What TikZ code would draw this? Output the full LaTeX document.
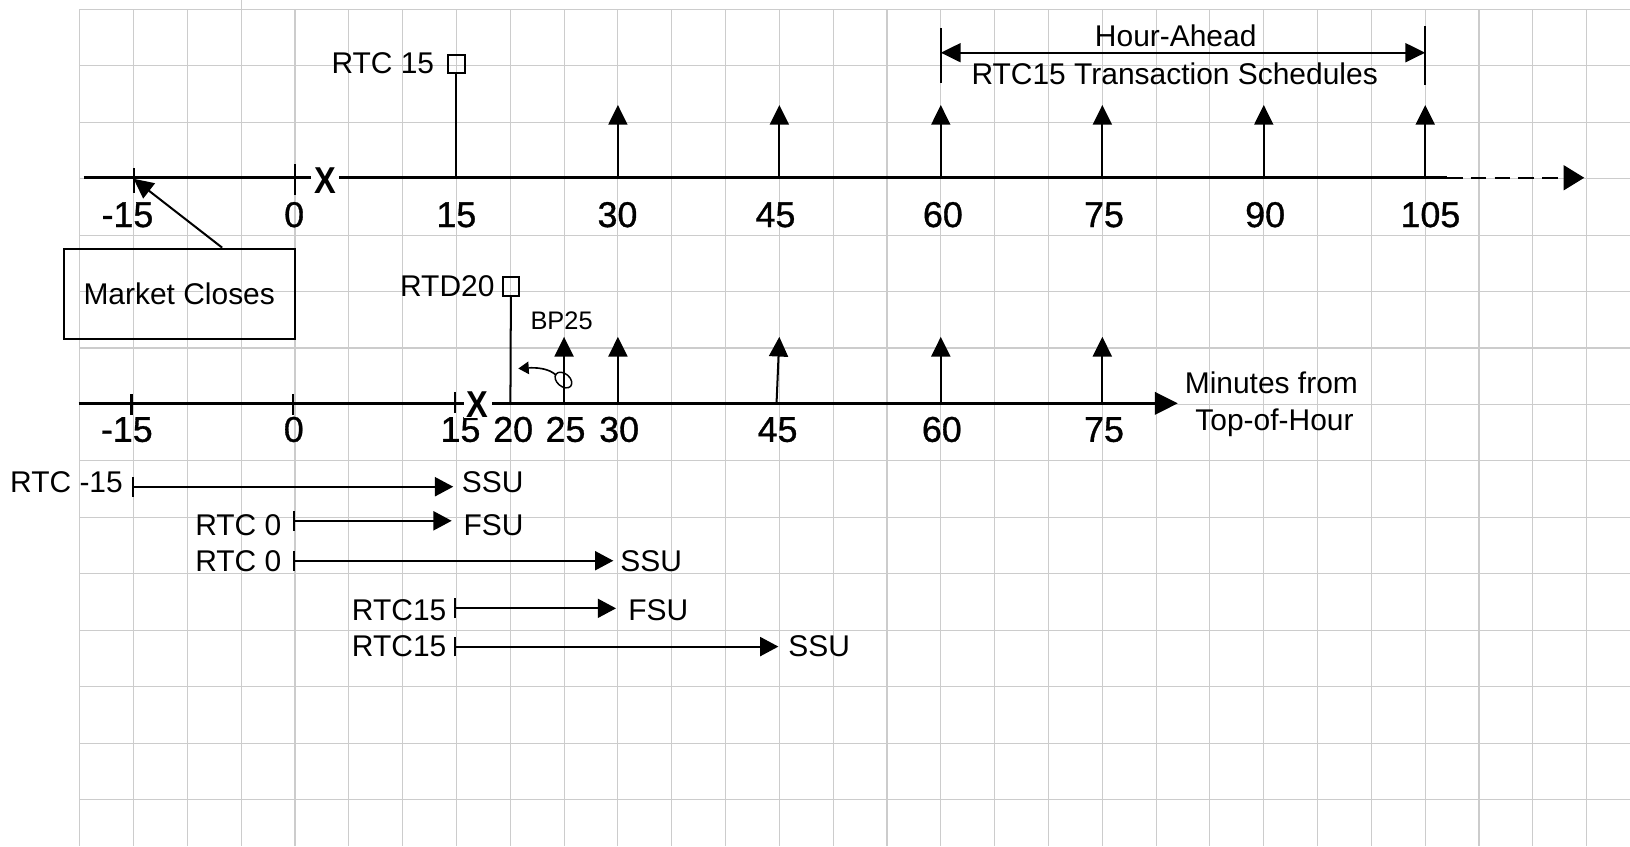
\documentclass[tikz,border=0pt]{standalone}
\usepackage{fontspec}
\setmainfont{Liberation Sans}
\newfontfamily\tickfont[FakeBold=0.9]{Liberation Sans}
\usetikzlibrary{arrows.meta}
\definecolor{gridgray}{RGB}{204,204,204}
\begin{document}
\begin{tikzpicture}[x=0.02cm,y=-0.02cm,
  gridc/.style={draw=gridgray, line width=0.6pt},
  axisline/.style={line width=1.4pt},
  conn/.style={line width=1.1pt},
  uparrow/.style={conn,-{Triangle[length=10.8pt,width=10.4pt]}},
  rowarrow/.style={conn,{Bar[width=10.8pt]}-{Triangle[length=10pt,width=10.4pt]}},
  lbl/.style={inner sep=0pt, font=\fontsize{16.4}{19.6}\selectfont},
  ticklbl/.style={inner sep=0pt, anchor=base, font=\tickfont\fontsize{19.6}{23}\selectfont},
  xmark/.style={inner xsep=2pt, inner ysep=0.5pt, fill=white, font=\fontsize{20.5}{20.5}\selectfont\bfseries, xscale=0.87},
  sqmark/.style={draw, line width=1.1pt, inner sep=0pt, minimum width=9.6pt, minimum height=9.6pt},
]
\useasboundingbox (0,0) rectangle (1568,814);
\fill[white] (0,0) rectangle (1568,814);
% grid
\foreach \k in {0,...,28} \draw[gridc] ({76.7+51.77*\k},9) -- ({76.7+51.77*\k},814);
\draw[gridc] (232,0) -- (232,9);
\foreach \j in {0,...,14} \draw[gridc] (76.7,{9+54.3*\j}) -- (1568,{9+54.3*\j});

% ---------- top time line ----------
\coordinate (tA) at (80.7,171);
\coordinate (tS) at (1392,171);
\coordinate (tE) at (1524,171);
\draw[axisline] (tA) -- (tS);
\draw[line width=1.1pt, dash pattern=on 8.5pt off 4.5pt, -{Triangle[length=11.3pt,width=13.6pt]}] (tS) -- (tE);
\draw[conn] (128.5,162) -- (128.5,186);
\draw[conn] (283.8,158) -- (283.8,187.6);

\foreach \x/\t [count=\i] in {122.6/-15, 283/0, 439/15, 594/30, 746/45, 907/60, 1062/75, 1217/90, 1376/105}
  \node[ticklbl] (tl\i) at (\x,218.4) {\t};

\node[xmark] (xt) at (312.7,174) {X};

\node[sqmark] (sq15) at (439,61.5) {};
\coordinate (t15) at (439,171);
\draw[conn] (sq15) -- (t15);
\node[lbl, anchor=base east] (lrtc15) at (418,71) {RTC 15};

\foreach \x [count=\i] in {594.4,749.7,905,1060.4,1215.7,1371} {
  \coordinate (tb\i) at (\x,171);
  \coordinate (tt\i) at (\x,101);
  \draw[uparrow] (tb\i) -- (tt\i);
}

% bracket
\coordinate (bl1) at (905,27); \coordinate (bl2) at (905,80);
\coordinate (br1) at (1371,25); \coordinate (br2) at (1371,82);
\draw[conn] (bl1) -- (bl2);
\draw[conn] (br1) -- (br2);
\coordinate (bm1) at (905,50.7); \coordinate (bm2) at (1371,50.7);
\draw[conn, {Triangle[length=10.9pt,width=10.4pt]}-{Triangle[length=10.9pt,width=10.4pt]}] (bm1) -- (bm2);
\node[lbl, anchor=base] (ha) at (1131,45) {Hour-Ahead};
\node[lbl, anchor=base] (trs) at (1130,81) {RTC15 Transaction Schedules};

% market closes
\node[lbl, draw, line width=1.1pt, minimum width=126.6pt, minimum height=49.3pt] (mc) at (172.4,282.5) {Market Closes};
\coordinate (mctip) at (128.5,172);
\draw[conn,-{Triangle[length=10.8pt,width=10.4pt]}] (mc.47) -- (mctip);

% ---------- bottom time line ----------
\coordinate (bA) at (75.6,388);
\coordinate (bE) at (1133,388);
\draw[axisline,-{Triangle[length=12.5pt,width=12.2pt]}] (bA) -- (bE);
\draw[conn] (126.5,379) -- (126.5,399);
\draw[conn] (282,379) -- (282,399);
\draw[conn] (438,377) -- (438,397.5);

\foreach \x/\t [count=\i] in {122/-15, 282.6/0, 443/15, 493.6/20, 544/25, 595.6/30, 748/45, 906/60, 1062/75}
  \node[ticklbl] (bl\i) at (\x,425) {\t};

\node[xmark, inner ysep=0pt] (xb) at (459.4,389.5) {X};

\node[sqmark, minimum width=9pt, minimum height=10.5pt] (sq20) at (491.5,275.7) {};
\coordinate (b20) at (491,388);
\draw[conn] (sq20) -- (b20);
\node[lbl, anchor=base east] (lrtd) at (476,284.8) {RTD20};
\node[inner sep=0pt, anchor=base west, font=\fontsize{13.9}{16}\selectfont] (lbp) at (510,316.5) {BP25};

\foreach \x [count=\i] in {542.6,594.4,905,1060.4} {
  \coordinate (bb\i) at (\x,388);
  \coordinate (bt\i) at (\x,324);
  \draw[uparrow] (bb\i) -- (bt\i);
}
\coordinate (bb45) at (747,388);
\coordinate (bt45) at (749.7,324);
\draw[uparrow] (bb45) -- (bt45);

% loop arrow
\draw[line width=0.8pt, rotate around={-40:(542,365.6)}] (542,365.6) ellipse [x radius=5.2pt, y radius=3.5pt];
\coordinate (lpS) at (535,361);
\coordinate (lpT) at (498.6,354.5);
\draw[line width=0.9pt, -{Triangle[length=5.7pt,width=6.8pt]}] (lpS) .. controls (528,354) and (515,353.5) .. (lpT);

\node[lbl, anchor=base] (mf) at (1223,378.4) {Minutes from};
\node[lbl, anchor=base] (toh) at (1226,414.6) {Top-of-Hour};

% ---------- rows ----------
\coordinate (r1s) at (126.5,468.2); \coordinate (r1e) at (436,468.2);
\draw[rowarrow] (r1s) -- (r1e);
\node[lbl, anchor=base east] (r1l) at (118.5,474) {RTC -15};
\node[lbl, anchor=base west] (r1r) at (444,474) {SSU};

\coordinate (r2s) at (282,501); \coordinate (r2e) at (434.5,501);
\draw[rowarrow] (r2s) -- (r2e);
\node[lbl, anchor=base east] (r2l) at (271,514.7) {RTC 0};
\node[lbl, anchor=base west] (r2r) at (445.7,514.7) {FSU};

\coordinate (r3s) at (282,539.4); \coordinate (r3e) at (590,539.4);
\draw[rowarrow] (r3s) -- (r3e);
\node[lbl, anchor=base east] (r3l) at (271,550) {RTC 0};
\node[lbl, anchor=base west] (r3r) at (596.5,550) {SSU};

\coordinate (r4s) at (437,585.2); \coordinate (r4e) at (592.6,585.2);
\draw[rowarrow] (r4s) -- (r4e);
\node[lbl, anchor=base east] (r4l) at (429.7,596.5) {RTC15};
\node[lbl, anchor=base west] (r4r) at (604,596.5) {FSU};

\coordinate (r5s) at (437,622); \coordinate (r5e) at (748.8,622);
\draw[rowarrow] (r5s) -- (r5e);
\node[lbl, anchor=base east] (r5l) at (429.7,631.7) {RTC15};
\node[lbl, anchor=base west] (r5r) at (758,631.7) {SSU};
\end{tikzpicture}
\end{document}
